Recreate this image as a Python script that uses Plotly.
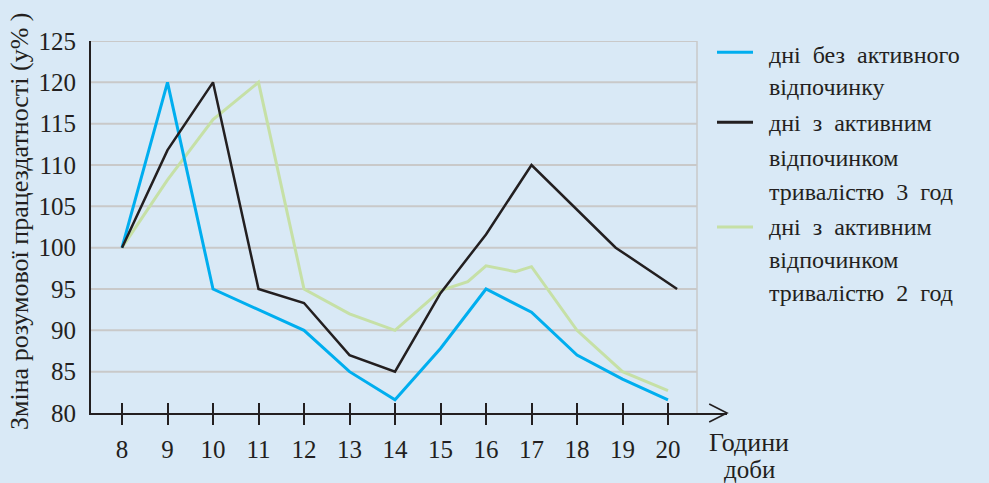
import plotly.graph_objects as go

# --- data ---
hours = [8, 9, 10, 11, 12, 13, 14, 15, 16, 17, 18, 19, 20]

no_rest_x = hours
no_rest_y = [100, 120, 95, 92.5, 90, 85, 81.6, 87.8, 95, 92.2, 87, 84.1, 81.6]

rest3_x = [8, 9, 10, 11, 12, 13, 14, 15, 16, 17, 18.85, 20.2]
rest3_y = [100, 111.8, 120, 95, 93.3, 87, 85, 94.5, 101.6, 110, 100, 95]

rest2_x = [8, 9, 10, 11, 12, 13, 14, 15, 15.6, 16, 16.65, 17, 18, 19, 20]
rest2_y = [100, 108.2, 115.5, 120, 95, 92, 90, 94.8, 95.9, 97.8, 97.1, 97.7, 90, 85, 82.7]

y_ticks = [80, 85, 90, 95, 100, 105, 110, 115, 120, 125]

legend_rows = [
    ["дні без активного", "відпочинку"],
    ["дні з активним", "відпочинком", "тривалістю 3 год"],
    ["дні з активним", "відпочинком", "тривалістю 2 год"],
]

BG = "#d9e9f6"
INK = "#231f20"
BLUE = "#00aeef"
GREEN = "#c6e0a6"
GRID = "#c9c9c9"
FONT = "Liberation Serif"


def wide(s):
    # the book font has wide word spacing
    return s.replace(" ", "\u00a0 ")


fig = go.Figure()

fig.add_trace(go.Scatter(x=rest2_x, y=rest2_y, mode="lines",
                         line=dict(color=GREEN, width=3), showlegend=False))
fig.add_trace(go.Scatter(x=no_rest_x, y=no_rest_y, mode="lines",
                         line=dict(color=BLUE, width=3), showlegend=False))
fig.add_trace(go.Scatter(x=rest3_x, y=rest3_y, mode="lines",
                         line=dict(color=INK, width=2.5), showlegend=False))
# carrier for the overlay axis that draws the inner half of the ticks
fig.add_trace(go.Scatter(x=[8], y=[80], xaxis="x2", mode="markers",
                         marker=dict(opacity=0), showlegend=False, hoverinfo="skip"))

x0 = 8 - 31 / 45.5
x1 = x0 + 636 / 45.5
grid_end = 606 / 636

shapes = []
for v in y_ticks[1:]:
    shapes.append(dict(type="line", xref="paper", yref="y", x0=0, x1=grid_end,
                       y0=v, y1=v, line=dict(color=GRID, width=2), layer="below"))
shapes.append(dict(type="line", xref="paper", yref="paper", x0=grid_end, x1=grid_end,
                   y0=0, y1=1, line=dict(color=GRID, width=1.5), layer="below"))
# arrow head on the x axis
shapes.append(dict(type="path", xref="paper", yref="paper",
                   path="M 0.972,0.024 L 1.0,0 L 0.972,-0.024",
                   line=dict(color=INK, width=1.6)))

annotations = []
# legend (custom, to reproduce the wide line spacing)
sample_y = [52, 122, 227]
row_y = [[55, 87], [123, 158, 192], [227, 260, 293]]
sample_colors = [BLUE, INK, GREEN]
for i, rows in enumerate(legend_rows):
    yp = (413.3 - sample_y[i]) / 372.6
    shapes.append(dict(type="line", xref="paper", yref="paper",
                       x0=(717 - 91) / 636, x1=(753 - 91) / 636, y0=yp, y1=yp,
                       line=dict(color=sample_colors[i], width=3)))
    for text, py in zip(rows, row_y[i]):
        annotations.append(dict(text=wide(text), xref="paper", yref="paper",
                                x=(767 - 91) / 636, y=(413.3 - py) / 372.6,
                                xanchor="left", yanchor="middle", showarrow=False,
                                font=dict(family=FONT, size=24, color=INK)))

annotations.append(dict(text="Зміна розумової працездатності (у% )", textangle=-90,
                        xref="paper", yref="paper", x=(19 - 91) / 636,
                        y=(413.3 - 222) / 372.6, xanchor="center", yanchor="middle",
                        showarrow=False, font=dict(family=FONT, size=26, color=INK)))
annotations.append(dict(text="Години", xref="paper", yref="paper",
                        x=(749 - 91) / 636, y=(413.3 - 443) / 372.6,
                        xanchor="center", yanchor="middle", showarrow=False,
                        font=dict(family=FONT, size=26, color=INK)))
annotations.append(dict(text="доби", xref="paper", yref="paper",
                        x=(749 - 91) / 636, y=(413.3 - 470) / 372.6,
                        xanchor="center", yanchor="middle", showarrow=False,
                        font=dict(family=FONT, size=25, color=INK)))

fig.update_layout(
    width=989, height=483,
    margin=dict(l=91, r=262, t=41, b=70),
    paper_bgcolor=BG, plot_bgcolor=BG,
    showlegend=False,
    shapes=shapes,
    annotations=annotations,
    xaxis=dict(range=[x0, x1], tickvals=hours, showgrid=False, zeroline=False,
               showline=True, linecolor=INK, linewidth=2,
               ticks="outside", ticklen=10, tickwidth=2, tickcolor=INK,
               ticklabelstandoff=3,
               tickfont=dict(family=FONT, size=25, color=INK)),
    xaxis2=dict(range=[x0, x1], overlaying="x", anchor="y", side="bottom",
                tickvals=hours, showgrid=False, zeroline=False, showline=False,
                ticks="inside", ticklen=10, tickwidth=2, tickcolor=INK,
                showticklabels=False),
    yaxis=dict(range=[80, 125], tickvals=y_ticks, showgrid=False, zeroline=False,
               showline=True, linecolor=INK, linewidth=2, ticks="",
               ticklabelstandoff=8,
               tickfont=dict(family=FONT, size=25, color=INK)),
)

# drop the default page margin so the figure fills the window exactly
fig.write_html("out.html", config={"displayModeBar": False},
               post_script="document.body.style.margin='0';")
